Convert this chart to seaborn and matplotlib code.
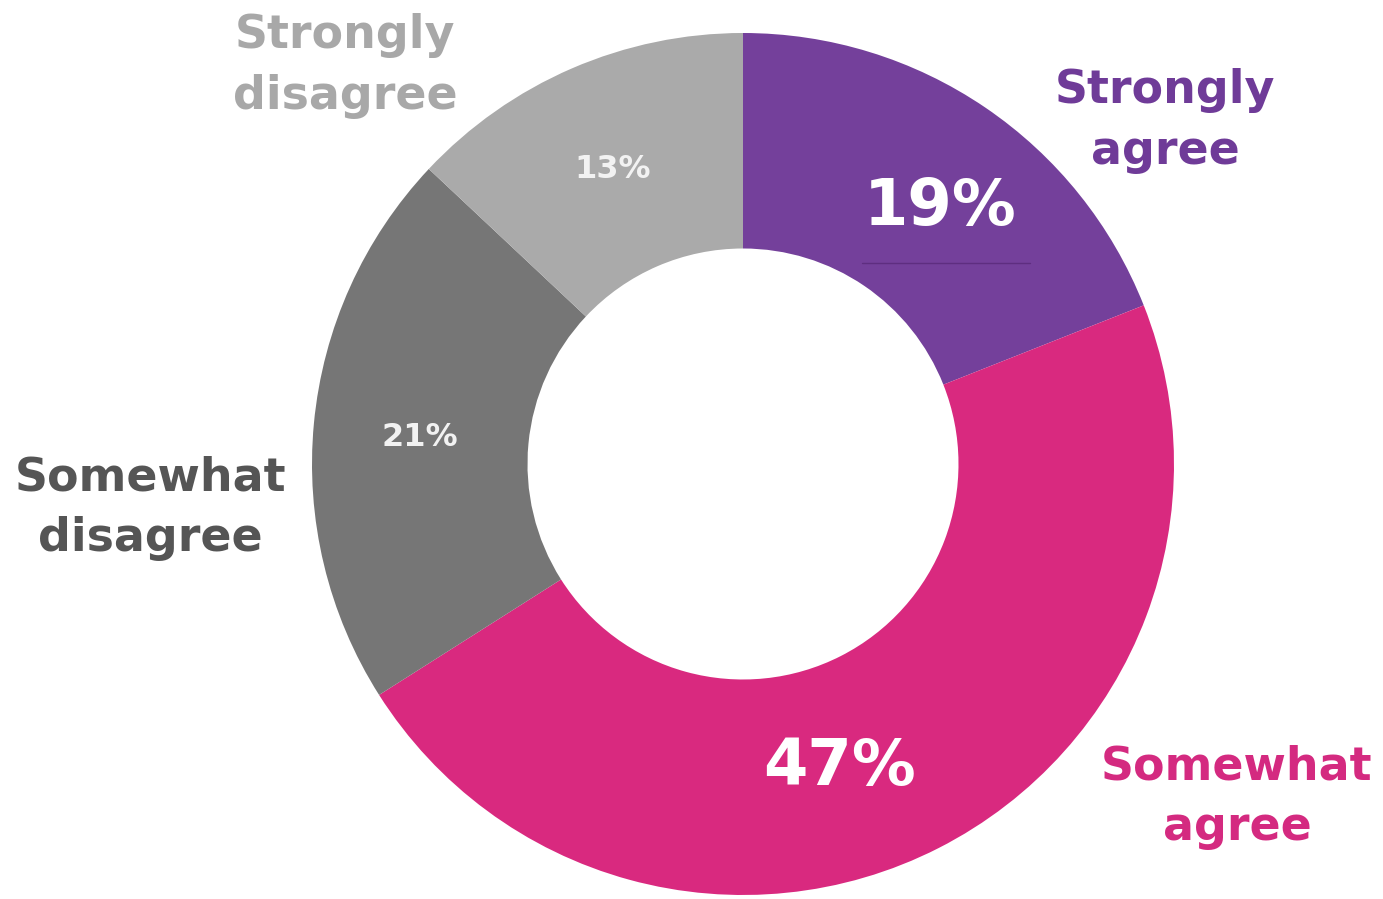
import matplotlib
matplotlib.use("Agg")
import matplotlib.pyplot as plt
import seaborn as sns

categories = ["Strongly agree", "Somewhat agree", "Somewhat disagree", "Strongly disagree"]
values = [19, 47, 21, 13]
label_lines = ["Strongly\nagree", "Somewhat\nagree", "Somewhat\ndisagree", "Strongly\ndisagree"]
pct_labels = ["19%", "47%", "21%", "13%"]

sns.set_theme(style="white")
plt.rcParams['font.family'] = ['DejaVu Sans']

wedge_colors = ["#74409B", "#D9297F", "#767676", "#AAAAAA"]
text_colors = ["#6F3B98", "#D42A80", "#555555", "#A8A8A8"]

W, H = 1383, 899
fig = plt.figure(figsize=(W / 100, H / 100), dpi=100)
fig.patch.set_facecolor("white")
ax = fig.add_axes([0, 0, 1, 1])

cx, cy, R = 743, H - 464, 431
wedges, _ = ax.pie(values, colors=wedge_colors, startangle=90, counterclock=False,
                   center=(cx, cy), radius=R, frame=True,
                   wedgeprops=dict(width=R * 0.5, edgecolor="none"))
ax.set_xlim(0, W)
ax.set_ylim(0, H)
ax.set_aspect("equal")
ax.axis("off")

# category labels
label_pos = [(1165, 121), (1237, 797), (150, 508), (345, 66)]
for txt, (x, y), c in zip(label_lines, label_pos, text_colors):
    ax.text(x, H - y, txt, ha="center", va="center", fontsize=33, fontweight="bold",
            color=c, linespacing=1.45)

# percentage labels
pct_pos = [(940, 207), (840, 767), (420, 437), (613, 170)]
pct_sizes = [46, 46, 23, 23]
pct_colors = ["white", "white", "#F2F2F2", "#F2F2F2"]
for txt, (x, y), s, c in zip(pct_labels, pct_pos, pct_sizes, pct_colors):
    ax.text(x, H - y, txt, ha="center", va="center", fontsize=s, fontweight="bold", color=c)

# thin rule under the 19% label
ax.plot([862, 1030], [H - 263, H - 263], color="#5E2E80", lw=1)

fig.savefig("out.png", dpi=100, facecolor="white")
